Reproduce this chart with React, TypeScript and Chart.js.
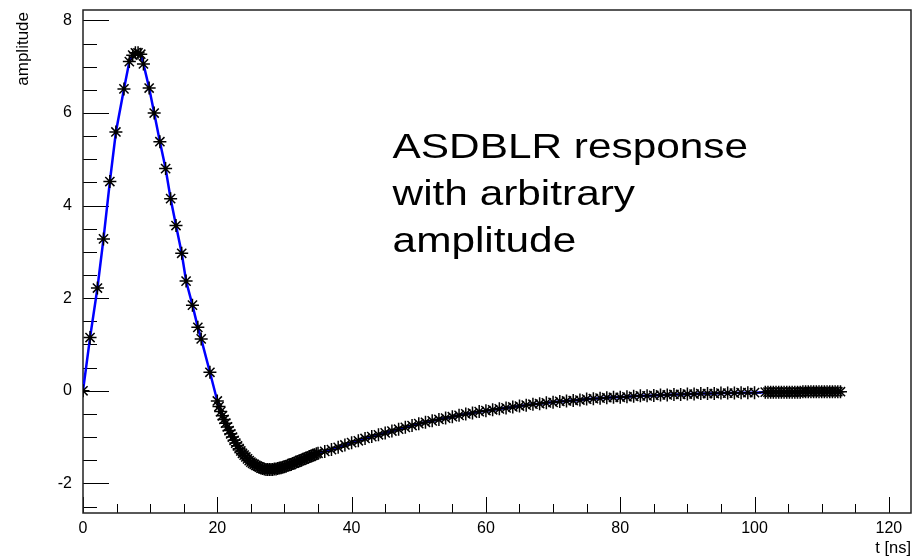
import { useEffect, useRef } from 'react';
import { Chart, registerables } from 'chart.js';

Chart.register(...registerables);

// ---- data (t in ns, amplitude) ----
const tPeak = [0, 1.05, 2.15, 3.05, 4.0, 4.9, 6.1, 6.9, 7.4, 7.8, 8.2, 8.6, 9.0, 9.85, 10.6, 11.45, 12.3, 13.05, 13.85, 14.7, 15.35, 16.3, 17.1, 17.6, 18.9];
const yPeak = [0, 1.15, 2.22, 3.28, 4.52, 5.59, 6.52, 7.11, 7.25, 7.3, 7.3, 7.27, 7.06, 6.54, 6.0, 5.38, 4.8, 4.15, 3.57, 2.97, 2.37, 1.85, 1.37, 1.12, 0.4];

const tUndershoot = [20.0, 20.25, 20.5, 20.75, 21.0, 21.25, 21.5, 21.75, 22.0, 22.25, 22.5, 22.75, 23.0, 23.25, 23.5, 23.75, 24.0, 24.25, 24.5, 24.75, 25.0, 25.25, 25.5, 25.75, 26.0, 26.25, 26.5, 26.75, 27.0, 27.25, 27.5, 27.75, 28.0, 28.25, 28.5, 28.75, 29.0, 29.25, 29.5, 29.75, 30.0, 30.25, 30.5, 30.75, 31.0, 31.25, 31.5, 31.75, 32.0, 32.25, 32.5, 32.75, 33.0, 33.25, 33.5, 33.75, 34.0, 34.25, 34.5, 34.75, 35.0];
const yUndershoot = [-0.22, -0.34, -0.45, -0.54, -0.62, -0.7, -0.78, -0.86, -0.93, -1.0, -1.07, -1.13, -1.19, -1.25, -1.3, -1.35, -1.39, -1.43, -1.47, -1.51, -1.54, -1.57, -1.59, -1.61, -1.63, -1.65, -1.67, -1.68, -1.69, -1.7, -1.7, -1.7, -1.7, -1.7, -1.69, -1.69, -1.68, -1.67, -1.66, -1.65, -1.64, -1.63, -1.61, -1.6, -1.59, -1.57, -1.56, -1.54, -1.53, -1.51, -1.5, -1.48, -1.47, -1.45, -1.44, -1.42, -1.41, -1.39, -1.38, -1.36, -1.35];

const tRecovery = [36, 37, 38, 39, 40, 41, 42, 43, 44, 45, 46, 47, 48, 49, 50, 51, 52, 53, 54, 55, 56, 57, 58, 59, 60, 61, 62, 63, 64, 65, 66, 67, 68, 69, 70, 71, 72, 73, 74, 75, 76, 77, 78, 79, 80, 81, 82, 83, 84, 85, 86, 87, 88, 89, 90, 91, 92, 93, 94, 95, 96, 97, 98, 99, 100];
const yRecovery = [-1.31, -1.27, -1.22, -1.17, -1.12, -1.08, -1.03, -0.99, -0.95, -0.91, -0.87, -0.83, -0.79, -0.75, -0.71, -0.68, -0.65, -0.62, -0.59, -0.56, -0.53, -0.5, -0.48, -0.45, -0.43, -0.41, -0.39, -0.37, -0.35, -0.33, -0.31, -0.29, -0.28, -0.26, -0.25, -0.23, -0.22, -0.21, -0.2, -0.18, -0.17, -0.16, -0.15, -0.14, -0.14, -0.13, -0.12, -0.11, -0.11, -0.1, -0.09, -0.09, -0.08, -0.08, -0.07, -0.07, -0.06, -0.06, -0.06, -0.05, -0.05, -0.05, -0.04, -0.04, -0.04];

const tTail = [101.6, 102.0, 102.4, 102.8, 103.2, 103.6, 104.0, 104.4, 104.8, 105.2, 105.6, 106.0, 106.4, 106.8, 107.2, 107.6, 108.0, 108.4, 108.8, 109.2, 109.6, 110.0, 110.4, 110.8, 111.2, 111.6, 112.0, 112.4, 112.8];
const yTail = [-0.03, -0.03, -0.03, -0.03, -0.03, -0.03, -0.03, -0.03, -0.03, -0.03, -0.03, -0.03, -0.03, -0.03, -0.02, -0.02, -0.02, -0.02, -0.02, -0.02, -0.02, -0.02, -0.02, -0.02, -0.02, -0.02, -0.02, -0.02, -0.02];

// ---- axes ----
const xMajorTicks = [0, 20, 40, 60, 80, 100, 120];
const xMinorTicks = [5, 10, 15, 25, 30, 35, 45, 50, 55, 65, 70, 75, 85, 90, 95, 105, 110, 115];
const yMajorTicks = [-2, 0, 2, 4, 6, 8];
const yMinorTicks = [-2.5, -1.5, -1, -0.5, 0.5, 1, 1.5, 2.5, 3, 3.5, 4.5, 5, 5.5, 6.5, 7, 7.5];
const xMin = 0;
const xMax = 123.3;
const yMin = -2.64;
const yMax = 8.225;

const xTitle = 't [ns]';
const yTitle = 'amplitude';
const noteLines = ['ASDBLR response', 'with arbitrary', 'amplitude'];

const FONT = '"Liberation Sans", Arial, Helvetica, sans-serif';

function buildPoints() {
  const ts = [...tPeak, ...tUndershoot, ...tRecovery, ...tTail];
  const ys = [...yPeak, ...yUndershoot, ...yRecovery, ...yTail];
  return ts.map((t, i) => ({ x: t, y: ys[i] }));
}

const rootStyle = {
  id: 'rootStyle',
  beforeDatasetsDraw(chart: any) {
    const { ctx, chartArea: a, scales } = chart;
    const xs = scales.x;
    const ys = scales.y;
    ctx.save();
    ctx.strokeStyle = '#000';
    ctx.lineWidth = 1;
    ctx.beginPath();
    xMajorTicks.forEach((v) => {
      const p = Math.round(xs.getPixelForValue(v)) + 0.5;
      ctx.moveTo(p, a.bottom);
      ctx.lineTo(p, a.bottom - 16);
    });
    xMinorTicks.forEach((v) => {
      const p = Math.round(xs.getPixelForValue(v)) + 0.5;
      ctx.moveTo(p, a.bottom);
      ctx.lineTo(p, a.bottom - 9);
    });
    yMajorTicks.forEach((v) => {
      const p = Math.round(ys.getPixelForValue(v)) + 0.5;
      ctx.moveTo(a.left, p);
      ctx.lineTo(a.left + 26, p);
    });
    yMinorTicks.forEach((v) => {
      const p = Math.round(ys.getPixelForValue(v)) + 0.5;
      ctx.moveTo(a.left, p);
      ctx.lineTo(a.left + 14, p);
    });
    ctx.stroke();
    // frame
    ctx.lineWidth = 1.5;
    ctx.strokeStyle = '#222';
    ctx.strokeRect(a.left, a.top, a.right - a.left, a.bottom - a.top);
    ctx.restore();
  },
  afterDraw(chart: any) {
    const { ctx, chartArea: a, scales } = chart;
    ctx.save();
    ctx.fillStyle = '#000';
    // axis titles
    ctx.font = `16.5px ${FONT}`;
    ctx.textAlign = 'right';
    ctx.textBaseline = 'alphabetic';
    ctx.fillText(xTitle, a.right, 553);
    ctx.save();
    ctx.translate(28, a.top + 2);
    ctx.rotate(-Math.PI / 2);
    ctx.font = `17px ${FONT}`;
    ctx.fillText(yTitle, 0, 0);
    ctx.restore();
    // annotation
    const nx = scales.x.getPixelForValue(46.1);
    ctx.save();
    ctx.translate(nx, 158.3);
    ctx.scale(1.21, 1);
    ctx.font = `35px ${FONT}`;
    ctx.textAlign = 'left';
    noteLines.forEach((line, i) => ctx.fillText(line, 0, i * 46.7));
    ctx.restore();
    ctx.restore();
  },
};

function zeroPad(s: any) {
  s.paddingTop = 0;
  s.paddingBottom = 0;
  s.paddingLeft = 0;
  s.paddingRight = 0;
}

export default function App() {
  const ref = useRef<HTMLCanvasElement | null>(null);
  useEffect(() => {
    if (!ref.current) return;
    const chart = new Chart(ref.current, {
      type: 'scatter',
      data: {
        datasets: [
          {
            data: buildPoints(),
            showLine: true,
            borderColor: '#0000ff',
            borderWidth: 2.5,
            tension: 0,
            pointStyle: 'star',
            pointRadius: 6.5,
            pointBorderColor: '#000',
            pointBackgroundColor: '#000',
            pointBorderWidth: 1.5,
          },
        ],
      },
      options: {
        animation: false,
        responsive: false,
        maintainAspectRatio: false,
        layout: { autoPadding: false, padding: { top: 10, right: 3, left: 0, bottom: 0 } },
        plugins: { legend: { display: false }, tooltip: { enabled: false } },
        events: [],
        scales: {
          x: {
            type: 'linear',
            min: xMin,
            max: xMax,
            grid: { display: false, drawTicks: false },
            border: { display: false },
            afterBuildTicks: (s: any) => {
              s.ticks = xMajorTicks.map((v) => ({ value: v }));
            },
            afterFit: (s: any) => {
              s.height = 44;
              zeroPad(s);
            },
            ticks: {
              color: '#000',
              font: { family: FONT, size: 16 },
              padding: 6,
              maxRotation: 0,
            },
          },
          y: {
            type: 'linear',
            min: yMin,
            max: yMax,
            grid: { display: false, drawTicks: false },
            border: { display: false },
            afterBuildTicks: (s: any) => {
              s.ticks = yMajorTicks.map((v) => ({ value: v }));
            },
            afterFit: (s: any) => {
              s.width = 83;
              zeroPad(s);
            },
            ticks: {
              color: '#000',
              font: { family: FONT, size: 16 },
              padding: 11,
            },
          },
        },
      },
      plugins: [rootStyle],
    });
    return () => chart.destroy();
  }, []);
  return (
    <div style={{ position: 'absolute', left: 0, top: 0, width: 914, height: 557, background: '#fff' }}>
      <canvas ref={ref} width={914} height={557} style={{ display: 'block' }} />
    </div>
  );
}
